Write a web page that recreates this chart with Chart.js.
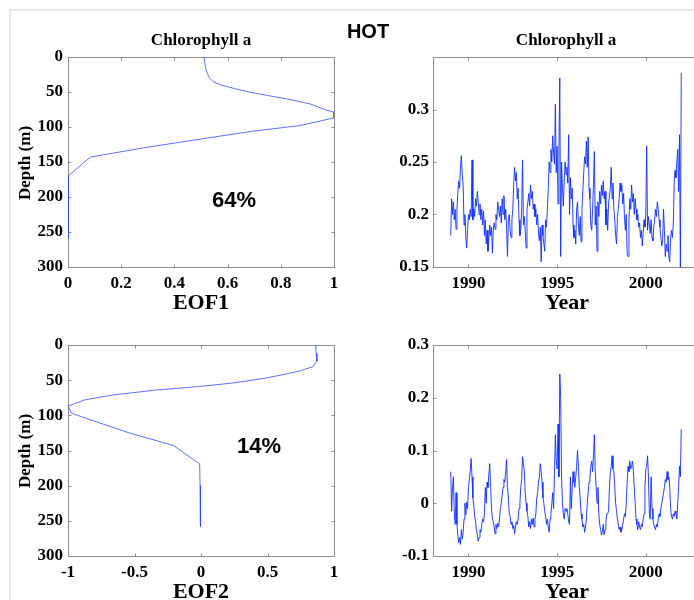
<!DOCTYPE html>
<html><head><meta charset="utf-8">
<script src="https://cdn.jsdelivr.net/npm/chart.js@4.4.1/dist/chart.umd.min.js"></script>
<style>
html,body{margin:0;padding:0;width:694px;height:600px;overflow:hidden;background:#fff;}
#frame{position:absolute;left:9px;top:9px;width:720px;height:620px;border-left:2px solid #e8e8e8;border-top:2px solid #e8e8e8;}
canvas{position:absolute;left:0;top:0;}
</style></head>
<body>
<div id="frame"></div>
<canvas id="c1" width="710" height="600"></canvas>
<canvas id="c2" width="710" height="600"></canvas>
<canvas id="c3" width="710" height="600"></canvas>
<canvas id="c4" width="710" height="600"></canvas>
<script>
// ---------------- DATA ----------------
const depthTicks = [0, 50, 100, 150, 200, 250, 300];
const eof1Ticks = [0, 0.2, 0.4, 0.6, 0.8, 1];
const eof1TickLabels = ["0", "0.2", "0.4", "0.6", "0.8", "1"];
const eof2Ticks = [-1, -0.5, 0, 0.5, 1];
const eof2TickLabels = ["-1", "-0.5", "0", "0.5", "1"];
const yearTicks = [1990, 1995, 2000];
const pc1Ticks = [0.15, 0.2, 0.25, 0.3];
const pc1TickLabels = ["0.15", "0.2", "0.25", "0.3"];
const pc2Ticks = [-0.1, 0, 0.1, 0.2, 0.3];
const pc2TickLabels = ["-0.1", "0", "0.1", "0.2", "0.3"];

const eof1Depths = [0, 10, 20, 30, 35, 40, 45, 50, 55, 60, 67, 75, 79, 87, 98, 106, 116, 130, 143, 170, 200, 230, 259];
const eof1Values = [0.511, 0.515, 0.52, 0.532, 0.545, 0.575, 0.625, 0.68, 0.75, 0.825, 0.91, 0.965, 1.0, 1.0, 0.871, 0.695, 0.52, 0.28, 0.084, 0.0, 0.0, 0.0, 0.0];

const eof2Depths = [0, 12, 23, 31, 37, 42, 47, 54, 59, 64, 71, 78, 87, 97, 109, 125, 143, 169, 200, 230, 258];
const eof2Values = [0.862, 0.866, 0.872, 0.84, 0.74, 0.62, 0.49, 0.24, -0.01, -0.336, -0.66, -0.875, -1.0, -0.975, -0.79, -0.54, -0.206, -0.01, -0.007, -0.005, -0.003];

const years = [
1989,1989.05,1989.1,1989.15,1989.2,1989.25,1989.3,1989.35,1989.4,1989.45,1989.5,1989.55,1989.6,1989.65,1989.7,1989.75,1989.8,1989.85,1989.9,1989.95,
1990,1990.05,1990.1,1990.15,1990.2,1990.25,1990.3,1990.35,1990.4,1990.45,1990.5,1990.55,1990.6,1990.65,1990.7,1990.75,1990.8,1990.85,1990.9,1990.95,
1991,1991.05,1991.1,1991.15,1991.2,1991.25,1991.3,1991.35,1991.4,1991.45,1991.5,1991.55,1991.6,1991.65,1991.7,1991.75,1991.8,1991.85,1991.9,1991.95,
1992,1992.05,1992.1,1992.15,1992.2,1992.25,1992.3,1992.35,1992.4,1992.45,1992.5,1992.55,1992.6,1992.65,1992.7,1992.75,1992.8,1992.85,1992.9,1992.95,
1993,1993.05,1993.1,1993.15,1993.2,1993.25,1993.3,1993.35,1993.4,1993.45,1993.5,1993.55,1993.6,1993.65,1993.7,1993.75,1993.8,1993.85,1993.9,1993.95,
1994,1994.05,1994.1,1994.15,1994.2,1994.25,1994.3,1994.35,1994.4,1994.45,1994.5,1994.55,1994.6,1994.65,1994.7,1994.75,1994.8,1994.85,1994.9,1994.95,
1995,1995.05,1995.1,1995.15,1995.2,1995.25,1995.3,1995.35,1995.4,1995.45,1995.5,1995.55,1995.6,1995.65,1995.7,1995.75,1995.8,1995.85,1995.9,1995.95,
1996,1996.05,1996.1,1996.15,1996.2,1996.25,1996.3,1996.35,1996.4,1996.45,1996.5,1996.55,1996.6,1996.65,1996.7,1996.75,1996.8,1996.85,1996.9,1996.95,
1997,1997.05,1997.1,1997.15,1997.2,1997.25,1997.3,1997.35,1997.4,1997.45,1997.5,1997.55,1997.6,1997.65,1997.7,1997.75,1997.8,1997.85,1997.9,1997.95,
1998,1998.05,1998.1,1998.15,1998.2,1998.25,1998.3,1998.35,1998.4,1998.45,1998.5,1998.55,1998.6,1998.65,1998.7,1998.75,1998.8,1998.85,1998.9,1998.95,
1999,1999.05,1999.1,1999.15,1999.2,1999.25,1999.3,1999.35,1999.4,1999.45,1999.5,1999.55,1999.6,1999.65,1999.7,1999.75,1999.8,1999.85,1999.9,1999.95,
2000,2000.05,2000.1,2000.15,2000.2,2000.25,2000.3,2000.35,2000.4,2000.45,2000.5,2000.55,2000.6,2000.65,2000.7,2000.75,2000.8,2000.85,2000.9,2000.95,
2001,2001.05,2001.1,2001.15,2001.2,2001.25,2001.3,2001.35,2001.4,2001.45,2001.5,2001.55,2001.6,2001.65,2001.7,2001.75,2001.8,2001.85,2001.9,2001.95,
2002];

const pc1Values = [
0.180,0.215,0.200,0.212,0.195,0.205,0.186,0.205,0.220,0.232,0.225,0.245,0.256,0.238,0.228,0.190,0.200,0.178,0.168,0.185,
0.200,0.195,0.205,0.198,0.252,0.195,0.205,0.198,0.215,0.208,0.222,0.212,0.200,0.210,0.195,0.205,0.190,0.203,0.180,0.195,
0.172,0.185,0.165,0.175,0.190,0.180,0.188,0.163,0.185,0.192,0.186,0.200,0.195,0.212,0.205,0.198,0.208,0.192,0.215,0.200,
0.218,0.195,0.205,0.188,0.160,0.195,0.200,0.185,0.178,0.195,0.205,0.228,0.245,0.232,0.240,0.215,0.225,0.195,0.180,0.185,
0.205,0.252,0.190,0.198,0.185,0.168,0.205,0.212,0.220,0.208,0.228,0.215,0.222,0.205,0.210,0.198,0.205,0.190,0.200,0.182,
0.175,0.188,0.155,0.190,0.180,0.172,0.165,0.195,0.188,0.205,0.225,0.250,0.240,0.262,0.250,0.275,0.258,0.248,0.305,0.240,
0.265,0.210,0.262,0.330,0.160,0.250,0.225,0.208,0.232,0.250,0.238,0.245,0.230,0.276,0.200,0.235,0.215,0.225,0.190,0.178,
0.185,0.172,0.205,0.212,0.190,0.180,0.198,0.174,0.205,0.222,0.240,0.255,0.248,0.270,0.245,0.274,0.225,0.215,0.190,0.185,
0.205,0.228,0.260,0.190,0.208,0.165,0.212,0.198,0.222,0.210,0.228,0.218,0.232,0.215,0.222,0.190,0.205,0.185,0.210,0.218,
0.225,0.245,0.215,0.230,0.205,0.195,0.180,0.172,0.198,0.205,0.215,0.230,0.222,0.228,0.210,0.220,0.195,0.185,0.200,0.162,
0.160,0.195,0.215,0.205,0.228,0.212,0.220,0.200,0.215,0.205,0.195,0.200,0.188,0.192,0.178,0.185,0.170,0.182,0.195,0.188,
0.200,0.265,0.185,0.198,0.190,0.182,0.195,0.178,0.175,0.188,0.195,0.205,0.198,0.212,0.205,0.195,0.188,0.178,0.170,0.175,
0.205,0.185,0.160,0.172,0.165,0.180,0.160,0.155,0.178,0.185,0.178,0.190,0.230,0.242,0.235,0.250,0.262,0.222,0.276,0.150,
0.335];

const pc2Values = [
0.060,-0.015,0.030,0.050,-0.020,-0.040,0.020,-0.040,-0.060,-0.075,-0.065,-0.078,-0.050,-0.068,-0.055,-0.030,0.000,-0.022,0.002,-0.010,
0.030,0.045,0.062,0.085,0.050,0.010,-0.005,-0.025,-0.035,-0.050,-0.060,-0.072,-0.065,-0.050,-0.055,-0.040,-0.030,-0.035,-0.020,0.030,
0.000,0.040,0.030,0.055,0.075,0.030,-0.010,-0.030,-0.035,-0.045,-0.058,-0.040,-0.048,-0.038,-0.045,-0.030,-0.010,0.000,0.015,0.030,
0.045,0.040,0.060,0.083,0.030,0.010,-0.020,-0.025,-0.040,-0.035,-0.048,-0.042,-0.058,-0.045,-0.035,-0.040,-0.030,-0.010,0.000,0.030,
0.045,0.088,0.075,0.060,0.020,0.000,-0.015,-0.025,-0.045,-0.035,-0.048,-0.030,-0.040,-0.028,-0.045,-0.030,-0.020,0.010,0.020,0.040,
0.050,0.075,0.060,0.040,0.010,0.000,-0.015,-0.025,-0.040,-0.030,-0.045,-0.055,-0.030,-0.020,0.000,0.020,-0.010,0.060,0.130,0.080,
0.065,0.150,0.050,0.245,0.200,0.050,0.000,-0.020,-0.030,-0.010,-0.015,-0.010,-0.020,-0.035,-0.040,0.050,-0.010,0.030,0.060,0.040,
0.030,0.050,0.070,0.100,0.070,0.030,0.010,-0.020,-0.030,-0.045,-0.040,-0.055,-0.045,-0.030,0.000,0.020,0.040,0.050,0.070,0.080,
0.060,0.090,0.130,0.060,0.030,0.000,0.030,-0.020,-0.040,-0.050,-0.060,-0.055,-0.040,-0.060,-0.050,-0.035,-0.020,-0.020,-0.015,0.030,
0.060,0.070,0.090,0.065,0.060,0.030,0.000,-0.015,-0.030,-0.040,-0.050,-0.045,-0.055,-0.050,-0.040,-0.030,-0.020,-0.025,0.000,0.040,
0.070,0.060,0.080,0.065,0.070,0.080,0.060,0.030,0.000,-0.030,-0.040,-0.050,-0.035,-0.045,-0.050,-0.040,-0.045,-0.030,-0.020,0.030,
0.065,0.070,0.090,0.050,-0.020,-0.030,0.050,-0.010,-0.030,-0.040,-0.045,-0.050,-0.040,-0.045,-0.030,-0.020,-0.025,-0.010,0.000,0.010,
0.020,0.030,0.045,0.040,0.060,0.045,0.050,0.030,-0.010,-0.025,-0.030,-0.020,-0.025,-0.015,-0.020,-0.030,0.000,0.030,0.070,0.050,
0.140];

// ---------------- STYLE / HELPERS ----------------
const SERIF = '"Liberation Serif", "Times New Roman", serif';
const SANS = '"Liberation Sans", Arial, sans-serif';
const tickFont = { family: SERIF, weight: 'bold', size: 17 };
const CANVAS_W = 710, CANVAS_H = 600;

const framePlugin = {
  id: 'frame',
  beforeDatasetsDraw(chart) {
    const { ctx, chartArea: a, scales } = chart;
    const L = Math.round(a.left) + 0.5, R = Math.round(a.right) + 0.5;
    const T = Math.round(a.top) + 0.5, B = Math.round(a.bottom) + 0.5;
    ctx.save();
    ctx.strokeStyle = '#8e8e8e';
    ctx.lineWidth = 1;
    ctx.strokeRect(L, T, R - L, B - T);
    const tl = 3;
    ctx.beginPath();
    scales.x.ticks.forEach(t => {
      const px = Math.round(scales.x.getPixelForValue(t.value)) + 0.5;
      if (px <= L + 1 || px >= R - 1) return;
      ctx.moveTo(px, B); ctx.lineTo(px, B - tl);
      ctx.moveTo(px, T); ctx.lineTo(px, T + tl);
    });
    scales.y.ticks.forEach(t => {
      const py = Math.round(scales.y.getPixelForValue(t.value)) + 0.5;
      if (py <= T + 1 || py >= B - 1) return;
      ctx.moveTo(L, py); ctx.lineTo(L + tl, py);
      ctx.moveTo(R, py); ctx.lineTo(R - tl, py);
    });
    ctx.stroke();
    ctx.restore();
  },
  afterDraw(chart, args, opts) {
    const { ctx } = chart;
    (opts.texts || []).forEach(tx => {
      ctx.save();
      ctx.font = tx.font;
      ctx.fillStyle = '#000';
      ctx.textAlign = 'center';
      ctx.textBaseline = 'alphabetic';
      ctx.translate(tx.x, tx.y);
      if (tx.rot) ctx.rotate(tx.rot);
      ctx.fillText(tx.text, 0, 0);
      ctx.restore();
    });
  }
};

function makeChart(id, cfg) {
  const area = cfg.area; // desired chart area
  const yW = 60, xH = 40;
  return new Chart(document.getElementById(id), {
    type: 'line',
    data: { datasets: [{
      data: cfg.points,
      borderColor: cfg.color,
      borderWidth: cfg.width,
      pointRadius: 0,
      tension: 0,
      fill: false
    }]},
    options: {
      responsive: false,
      animation: false,
      events: [],
      devicePixelRatio: 1,
      layout: { padding: { left: area.left - yW, top: area.top, right: CANVAS_W - area.right, bottom: CANVAS_H - area.bottom - xH } },
      plugins: { legend: { display: false }, tooltip: { enabled: false }, frame: { texts: cfg.texts } },
      scales: {
        x: {
          type: 'linear', position: 'bottom', min: cfg.xMin, max: cfg.xMax,
          grid: { display: false, drawTicks: false }, border: { display: false },
          ticks: { autoSkip: false, maxRotation: 0, padding: 6, font: tickFont, color: '#000',
            callback: (v) => cfg.xLabels ? cfg.xLabels[cfg.xTicks.indexOf(v)] ?? '' : String(v) },
          afterBuildTicks: s => { s.ticks = cfg.xTicks.map(v => ({ value: v })); },
          afterFit: s => { s.height = xH; }
        },
        y: {
          type: 'linear', position: 'left', min: cfg.yMin, max: cfg.yMax, reverse: !!cfg.yReverse,
          grid: { display: false, drawTicks: false }, border: { display: false },
          ticks: { autoSkip: false, padding: cfg.yPad, font: tickFont, color: '#000',
            callback: (v) => cfg.yLabels ? cfg.yLabels[cfg.yTicks.indexOf(v)] ?? '' : String(v) },
          afterBuildTicks: s => { s.ticks = cfg.yTicks.map(v => ({ value: v })); },
          afterFit: s => { s.width = yW; }
        }
      }
    },
    plugins: [framePlugin]
  });
}

const profileColor = 'rgba(30,60,255,0.8)';
const seriesColor = 'rgb(15,45,255)';
const titleFont = 'bold 17px ' + SERIF;
const labelFont = 'bold 22px ' + SERIF;
const pctFont = 'bold 22px ' + SANS;

makeChart('c1', {
  area: { left: 68, top: 57, right: 334, bottom: 267 },
  points: eof1Depths.map((d, i) => ({ x: eof1Values[i], y: d })),
  color: profileColor, width: 0.9,
  xMin: 0, xMax: 1, xTicks: eof1Ticks, xLabels: eof1TickLabels,
  yMin: 0, yMax: 300, yTicks: depthTicks, yReverse: true, yPad: 5,
  texts: [
    { text: 'HOT', x: 368, y: 38, font: 'bold 20px ' + SANS },
    { text: 'Chlorophyll a', x: 201, y: 45, font: titleFont },
    { text: 'EOF1', x: 201, y: 309, font: labelFont },
    { text: 'Depth (m)', x: 30, y: 163, font: titleFont, rot: -Math.PI / 2 },
    { text: '64%', x: 234, y: 207, font: pctFont }
  ]
});

makeChart('c2', {
  area: { left: 433, top: 57, right: 699, bottom: 267 },
  points: years.map((t, i) => ({ x: t, y: pc1Values[i] })),
  color: seriesColor, width: 0.9,
  xMin: 1988, xMax: 2003, xTicks: yearTicks,
  yMin: 0.15, yMax: 0.35, yTicks: pc1Ticks, yLabels: pc1TickLabels, yPad: 4,
  texts: [
    { text: 'Chlorophyll a', x: 566, y: 45, font: titleFont },
    { text: 'Year', x: 567, y: 309, font: labelFont }
  ]
});

makeChart('c3', {
  area: { left: 68, top: 345, right: 334, bottom: 556 },
  points: eof2Depths.map((d, i) => ({ x: eof2Values[i], y: d })),
  color: profileColor, width: 0.9,
  xMin: -1, xMax: 1, xTicks: eof2Ticks, xLabels: eof2TickLabels,
  yMin: 0, yMax: 300, yTicks: depthTicks, yReverse: true, yPad: 5,
  texts: [
    { text: 'EOF2', x: 201, y: 598, font: labelFont },
    { text: 'Depth (m)', x: 30, y: 451, font: titleFont, rot: -Math.PI / 2 },
    { text: '14%', x: 259, y: 453, font: pctFont }
  ]
});

makeChart('c4', {
  area: { left: 433, top: 345, right: 699, bottom: 556 },
  points: years.map((t, i) => ({ x: t, y: pc2Values[i] })),
  color: seriesColor, width: 0.9,
  xMin: 1988, xMax: 2003, xTicks: yearTicks,
  yMin: -0.1, yMax: 0.3, yTicks: pc2Ticks, yLabels: pc2TickLabels, yPad: 4,
  texts: [
    { text: 'Year', x: 567, y: 598, font: labelFont }
  ]
});
</script>
</body></html>
